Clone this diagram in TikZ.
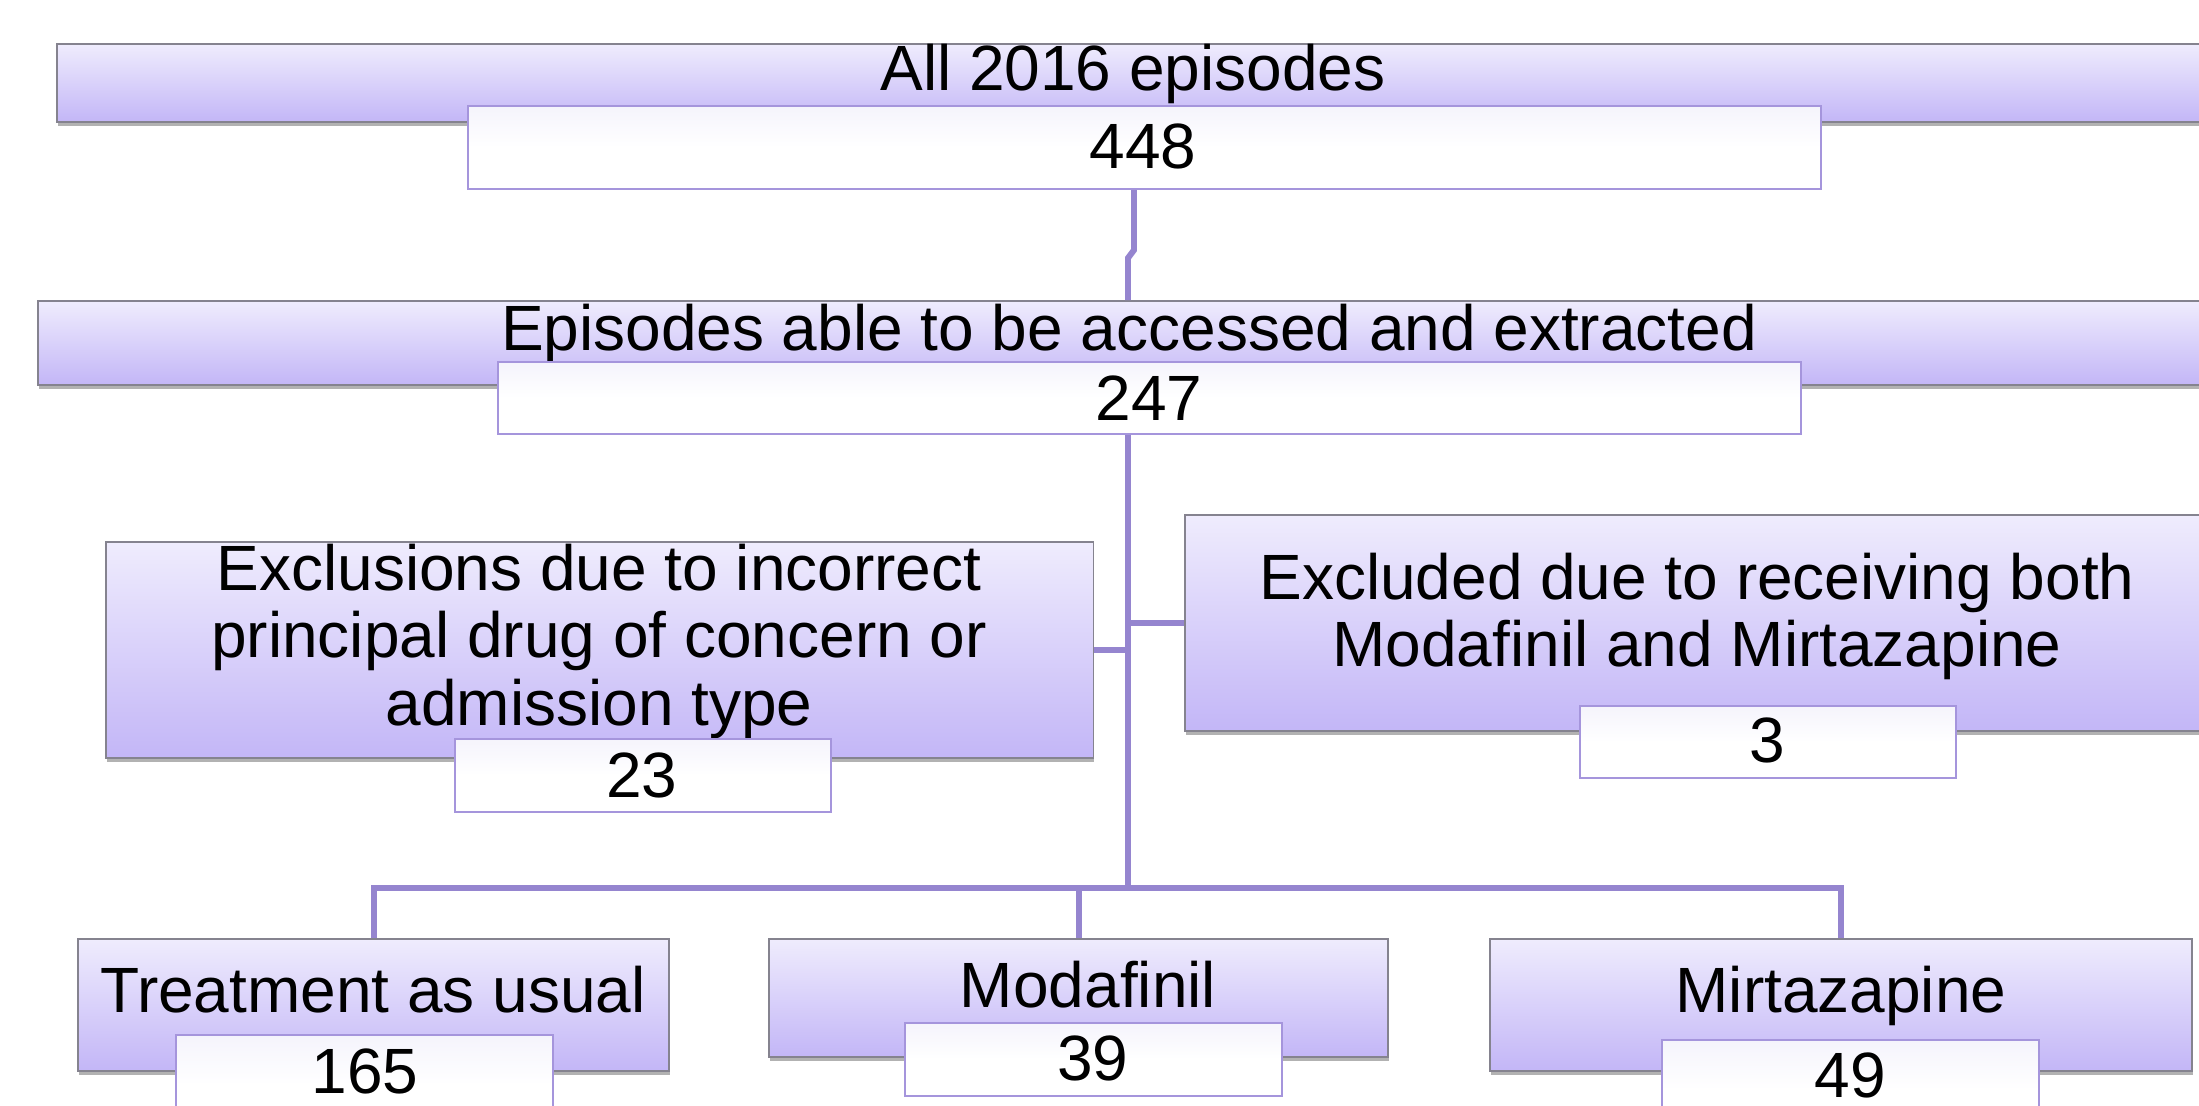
\documentclass[tikz,border=0pt]{standalone}
\usepackage{fontspec}
\setmainfont{Liberation Sans}
\usetikzlibrary{shadows}
\definecolor{FlowTop}{HTML}{EFECFD}
\definecolor{FlowBottom}{HTML}{C3B6F7}
\definecolor{FlowEdge}{HTML}{85838F}
\definecolor{FlowLine}{HTML}{9585CF}
\definecolor{FlowCount}{HTML}{A595DC}
\definecolor{FlowCountTop}{HTML}{F5F4FC}
\tikzset{
  flow text/.style={font=\fontsize{18.2}{19.2}\selectfont, text=black, inner sep=0pt},
  flow box/.style={draw=FlowEdge, line width=.5pt, top color=FlowTop, bottom color=FlowBottom,
    inner sep=0pt, anchor=north west,
    drop shadow={shadow xshift=.01cm, shadow yshift=-.04cm, opacity=.3, fill=black}},
  flow count/.style={draw=FlowCount, line width=.6pt, top color=FlowCountTop, bottom color=white,
    middle color=white, inner sep=0pt, anchor=north west},
  flow link/.style={draw=FlowLine, line width=1.7pt},
}

\begin{document}
\begin{tikzpicture}[x=0.01cm,y=-0.01cm]
  \useasboundingbox (0,0) rectangle (2199,1105);
  \clip (0,0) rectangle (2199,1105);

  % all episodes
  \node[flow box, minimum width=22.04cm, minimum height=.78cm] (all) at (56,43) {};
  \node[flow text, anchor=base] (all text) at (1133,90) {All 2016 episodes};
  \node[flow count, minimum width=13.52cm, minimum height=.83cm] (n448) at (467,105) {};
  \node[flow text, anchor=base] (n448 text) at (1143,168) {448};

  % accessed and extracted
  \node[flow box, minimum width=22.23cm, minimum height=.84cm] (access) at (37,300) {};
  \node[flow text, anchor=base] (access text) at (1129,350) {Episodes able to be accessed and extracted};
  \node[flow count, minimum width=13.02cm, minimum height=.72cm] (n247) at (497,361) {};
  \node[flow text, anchor=base] (n247 text) at (1149,420) {247};

  % exclusions
  \node[flow box, minimum width=9.87cm, minimum height=2.16cm] (wrong) at (105,541) {};
  \node[flow text, anchor=north, align=center] (wrong text) at (599,543)
    {Exclusions due to incorrect\\principal drug of concern or\\admission type};
  \node[flow count, minimum width=3.76cm, minimum height=.73cm] (n23) at (454,738) {};
  \node[flow text, anchor=base] (n23 text) at (642,797) {23};

  \node[flow box, minimum width=10.76cm, minimum height=2.16cm] (both) at (1184,514) {};
  \node[flow text, anchor=north, align=center] (both text) at (1697,552)
    {Excluded due to receiving both\\Modafinil and Mirtazapine};
  \node[flow count, minimum width=3.76cm, minimum height=.72cm] (n3) at (1579,705) {};
  \node[flow text, anchor=base] (n3 text) at (1767,762) {3};

  % groups
  \node[flow box, minimum width=5.91cm, minimum height=1.32cm] (usual) at (77,938) {};
  \node[flow text, anchor=base] (usual text) at (373,1012) {Treatment as usual};
  \node[flow count, minimum width=3.77cm, minimum height=1.0cm] (n165) at (175,1034) {};
  \node[flow text, anchor=base] (n165 text) at (365,1093) {165};

  \node[flow box, minimum width=6.19cm, minimum height=1.18cm] (moda) at (768,938) {};
  \node[flow text, anchor=base] (moda text) at (1088,1007) {Modafinil};
  \node[flow count, minimum width=3.77cm, minimum height=.73cm] (n39) at (904,1022) {};
  \node[flow text, anchor=base] (n39 text) at (1093,1080) {39};

  \node[flow box, minimum width=7.02cm, minimum height=1.32cm] (mirt) at (1489,938) {};
  \node[flow text, anchor=base] (mirt text) at (1841,1012) {Mirtazapine};
  \node[flow count, minimum width=3.77cm, minimum height=1.0cm] (n49) at (1661,1039) {};
  \node[flow text, anchor=base] (n49 text) at (1850,1097) {49};

  % connectors
  \coordinate (stem) at (1134,250);
  \coordinate (spine) at (1128,258);
  \coordinate (split) at (1128,888);
  \draw[flow link] (n448.south -| stem) -- (stem) -- (spine) -- (spine |- access.north);
  \draw[flow link] (n247.south -| spine) -- (split);
  \draw[flow link] (wrong.east) -- (wrong.east -| spine);
  \draw[flow link] (both.west) -- (both.west -| spine);
  \draw[flow link] (usual.north) -- (usual.north |- split) -- (mirt.north |- split) -- (mirt.north);
  \draw[flow link] (moda.north) -- (moda.north |- split);
\end{tikzpicture}
\end{document}
